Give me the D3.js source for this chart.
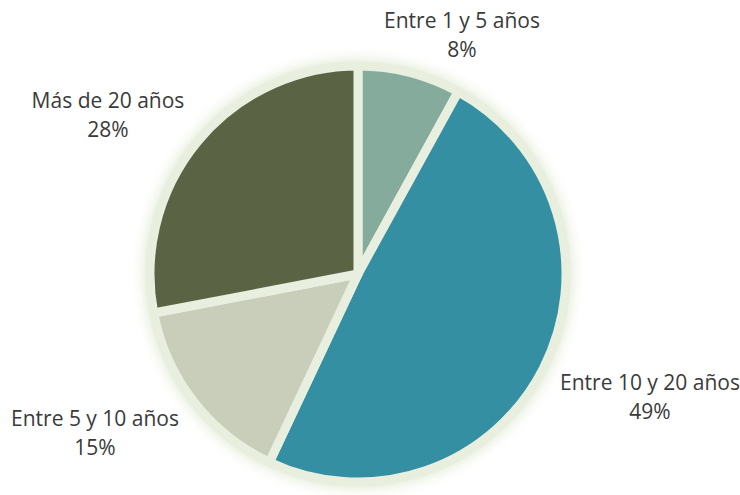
<!DOCTYPE html>
<html>
<head>
<meta charset="utf-8">
<script src="https://cdn.jsdelivr.net/npm/d3@7"></script>
<style>
  body { margin: 0; background: #fff; }
  svg { display: block; }
  text { font-family: "Open Sans", "Noto Sans", sans-serif; fill: #3A3A3A; }
</style>
</head>
<body>
<svg width="740" height="495"></svg>
<script>
var categories = ["Entre 1 y 5 años", "Entre 10 y 20 años", "Entre 5 y 10 años", "Más de 20 años"];
var values = [8, 49, 15, 28];
var colors = ["#84AB9C", "#348FA3", "#C9CEBB", "#5A6445"];

// label centres (layout only)
var labelPos = [[462, 28], [650, 390], [95, 426], [108, 108]];

window.onload = main;

function main() {
    var svg = d3.select("svg");
    var cx = 358, cy = 274, radius = 208;

    var defs = svg.append("defs");
    var blur = defs.append("filter")
        .attr("id", "glow")
        .attr("x", "-20%").attr("y", "-20%")
        .attr("width", "140%").attr("height", "140%");
    blur.append("feGaussianBlur").attr("stdDeviation", 7);

    var g = svg.append("g").attr("transform", "translate(" + cx + "," + cy + ")");

    // soft glow around the pie
    g.append("circle")
        .attr("r", radius + 5)
        .attr("fill", "#DCE6CC")
        .attr("filter", "url(#glow)");
    g.append("circle")
        .attr("r", radius)
        .attr("fill", "#E8EFDF");

    var pie = d3.pie().sort(null).value(function (d) { return d; });
    var arc = d3.arc().innerRadius(0).outerRadius(radius);

    g.selectAll("path.slice")
        .data(pie(values))
        .enter()
        .append("path")
        .attr("class", "slice")
        .attr("d", arc)
        .attr("fill", function (d, i) { return colors[i]; })
        .attr("stroke", "#E8EFDF")
        .attr("stroke-width", 9)
        .attr("stroke-linejoin", "round");

    var labels = svg.selectAll("text.label")
        .data(categories)
        .enter()
        .append("text")
        .attr("class", "label")
        .attr("text-anchor", "middle")
        .attr("font-size", "21px")
        .attr("x", function (d, i) { return labelPos[i][0]; })
        .attr("y", function (d, i) { return labelPos[i][1]; });

    labels.append("tspan").text(function (d) { return d; });
    labels.append("tspan")
        .attr("x", function (d, i) { return labelPos[i][0]; })
        .attr("dy", 29)
        .text(function (d, i) { return values[i] + "%"; });
}
</script>
</body>
</html>
